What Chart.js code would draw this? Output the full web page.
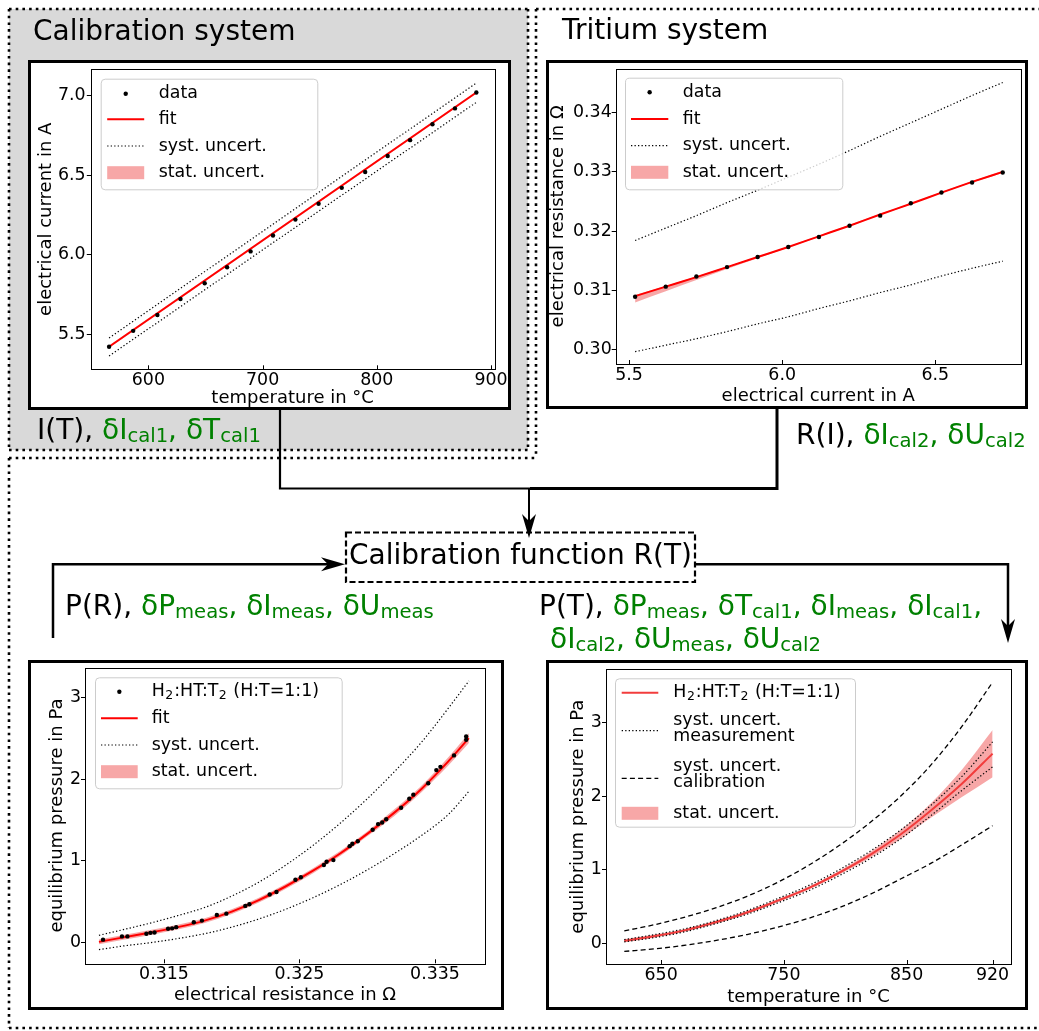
<!DOCTYPE html>
<html>
<head>
<meta charset="utf-8">
<script src="https://cdn.jsdelivr.net/npm/chart.js@4.4.0/dist/chart.umd.min.js"></script>
<style>
  html, body { margin: 0; padding: 0; background: #fff; }
  body { width: 1039px; height: 1031px; position: relative; overflow: hidden; font-family: 'DejaVu Sans', sans-serif; }
  .gray { position: absolute; left: 9px; top: 9px; width: 519px; height: 441px; background: #d9d9d9; }
  .box { position: absolute; box-sizing: border-box; border: 3px solid #000; background: #fff; }
  canvas { position: absolute; }
  svg { position: absolute; left: 0; top: 0; }
  .txt { position: absolute; font-size: 28px; line-height: 28px; white-space: nowrap; color: #000; }
  .g { color: #008000; }
  sub { font-size: 0.7em; vertical-align: -0.17em; line-height: 0; }
</style>
</head>
<body>
<div class="gray"></div>
<div class="box" style="left:28px; top:60px; width:483px; height:350px;"></div>
<div class="box" style="left:546px; top:60px; width:482px; height:349px;"></div>
<div class="box" style="left:28px; top:660px; width:476px; height:350px;"></div>
<div class="box" style="left:546px; top:660px; width:482px; height:350px;"></div>

<canvas id="c1" width="477" height="344" style="left:31px; top:63px;"></canvas>
<canvas id="c2" width="476" height="343" style="left:549px; top:63px;"></canvas>
<canvas id="c3" width="470" height="344" style="left:31px; top:663px;"></canvas>
<canvas id="c4" width="476" height="344" style="left:549px; top:663px;"></canvas>

<svg width="1039" height="1031">
  <g stroke="#000" stroke-width="2.6" stroke-dasharray="2.6 4.1" fill="none">
    <line x1="9" y1="9" x2="528" y2="9"/>
    <line x1="9" y1="9" x2="9" y2="450"/>
    <line x1="528" y1="9" x2="528" y2="450"/>
    <line x1="9" y1="450" x2="528" y2="450"/>
    <line x1="536" y1="9" x2="1039" y2="9"/>
    <line x1="536" y1="9" x2="536" y2="458"/>
    <line x1="9" y1="458" x2="536" y2="458"/>
    <line x1="9" y1="458" x2="9" y2="1028"/>
    <line x1="9" y1="1028" x2="1039" y2="1028"/>
  </g>
  <g stroke="#000" fill="none">
    <path d="M280 410 V488.5 H530" stroke-width="2.2"/>
    <path d="M530 488.5 H777 V409" stroke-width="3"/>
    <path d="M529 488.5 V524" stroke-width="2"/>
    <path d="M53 638 V564.3 H330" stroke-width="2.5"/>
    <path d="M696 564.3 H1008 V628" stroke-width="2.5"/>
    <rect x="346" y="532.5" width="349" height="49.5" stroke-width="2.2" stroke-dasharray="6 3" fill="#fff"/>
  </g>
  <g fill="#000">
    <polygon points="529,538 522,514 529,521 536,514"/>
    <polygon points="345,564.3 321,557.3 328,564.3 321,571.3"/>
    <polygon points="1008,643 1001,619 1008,626 1015,619"/>
  </g>
</svg>

<div class="txt" style="left:33px; top:17px;">Calibration system</div>
<div class="txt" style="left:562px; top:16px;">Tritium system</div>
<div class="txt" style="left:37px; top:416px;">I(T), <span class="g">δI<sub>cal1</sub>, δT<sub>cal1</sub></span></div>
<div class="txt" style="left:796px; top:421px;">R(I), <span class="g">δI<sub>cal2</sub>, δU<sub>cal2</sub></span></div>
<div class="txt" style="left:349px; top:541px;">Calibration function R(T)</div>
<div class="txt" style="left:65px; top:592px;">P(R), <span class="g">δP<sub>meas</sub>, δI<sub>meas</sub>, δU<sub>meas</sub></span></div>
<div class="txt" style="left:539px; top:592px;">P(T), <span class="g">δP<sub>meas</sub>, δT<sub>cal1</sub>, δI<sub>meas</sub>, δI<sub>cal1</sub>,</span></div>
<div class="txt g" style="left:550px; top:625px;">δI<sub>cal2</sub>, δU<sub>meas</sub>, δU<sub>cal2</sub></div>

<script>
// ---- calibration system: I(T)
const calTemp = [565.6, 586.7, 607.9, 628.1, 649.3, 668.9, 689.5, 709.1, 728.7, 749.0, 769.3, 789.8, 809.5, 829.1, 848.7, 868.4, 887.1];
const calCurrent = [5.42, 5.52, 5.62, 5.72, 5.82, 5.92, 6.02, 6.12, 6.22, 6.32, 6.42, 6.52, 6.62, 6.72, 6.82, 6.92, 7.02];
const calFitTemp = [565.6, 887.1];
const calFitCurrent = [5.42, 7.02];
const calSystUpper = [5.475, 7.080];
const calSystLower = [5.362, 6.958];
const calStatUpper = [5.427, 7.026];
const calStatLower = [5.413, 7.014];
const calTempTicks = [600, 700, 800, 900];
const calCurrentTicks = [5.5, 6.0, 6.5, 7.0];

// ---- tritium system: R(I)
const triCurrent = [5.52, 5.62, 5.72, 5.82, 5.92, 6.02, 6.12, 6.22, 6.32, 6.42, 6.52, 6.62, 6.72];
const triResistance = [0.3089, 0.3106, 0.3123, 0.3139, 0.3156, 0.3173, 0.3190, 0.3209, 0.3226, 0.3247, 0.3265, 0.3282, 0.3299];
const triFit = [0.3090, 0.3106, 0.3122, 0.3139, 0.3156, 0.3173, 0.3191, 0.3209, 0.3228, 0.3246, 0.3265, 0.3283, 0.3300];
const triSystUpper = [0.3184, 0.3205, 0.3226, 0.3248, 0.3269, 0.3291, 0.3313, 0.3336, 0.3360, 0.3383, 0.3406, 0.3429, 0.3451];
const triSystLower = [0.2996, 0.3007, 0.3018, 0.3030, 0.3043, 0.3055, 0.3069, 0.3082, 0.3096, 0.3109, 0.3124, 0.3137, 0.3149];
const triStatUpper = [0.3092, 0.3107, 0.3123, 0.3140, 0.3157, 0.3174, 0.3192, 0.3210, 0.3229, 0.3247, 0.3266, 0.3284, 0.3302];
const triStatLower = [0.3079, 0.3098, 0.3117, 0.3136, 0.3154, 0.3172, 0.3190, 0.3208, 0.3227, 0.3245, 0.3264, 0.3282, 0.3298];
const triCurrentTicks = [5.5, 6.0, 6.5];
const triResistanceTicks = [0.30, 0.31, 0.32, 0.33, 0.34];

// ---- P(R)
const prResistance = [0.3105, 0.3119, 0.3123, 0.3137, 0.3140, 0.3143, 0.3153, 0.3156, 0.3159, 0.3172, 0.3178, 0.3189, 0.3196,
  0.3210, 0.3213, 0.3228, 0.3233, 0.3247, 0.3251, 0.3268, 0.3270, 0.3275, 0.3287, 0.3289, 0.3293, 0.3304, 0.3308, 0.3311,
  0.3314, 0.3325, 0.3331, 0.3334, 0.3345, 0.3351, 0.3354, 0.3364, 0.3373, 0.3373];
const prPressure = [0.037, 0.077, 0.077, 0.11, 0.12, 0.125, 0.17, 0.175, 0.19, 0.25, 0.27, 0.34, 0.355,
  0.45, 0.47, 0.59, 0.62, 0.77, 0.80, 0.95, 0.99, 1.01, 1.18, 1.21, 1.24, 1.38, 1.45, 1.47,
  1.51, 1.65, 1.76, 1.81, 1.95, 2.11, 2.15, 2.29, 2.52, 2.48];
const prFitResistance = [0.3102, 0.312, 0.314, 0.316, 0.318, 0.320, 0.322, 0.324, 0.326, 0.328, 0.330, 0.332, 0.334, 0.336, 0.3375];
const prFit = [0.01, 0.065, 0.125, 0.19, 0.27, 0.38, 0.52, 0.69, 0.88, 1.09, 1.33, 1.59, 1.88, 2.22, 2.50];
const prSystUpper = [0.09, 0.16, 0.24, 0.33, 0.43, 0.57, 0.74, 0.95, 1.19, 1.46, 1.76, 2.09, 2.45, 2.87, 3.20];
const prSystLower = [-0.085, -0.04, 0.0, 0.05, 0.11, 0.19, 0.29, 0.41, 0.55, 0.71, 0.89, 1.09, 1.31, 1.57, 1.85];
const prStatUpper = [0.04, 0.095, 0.155, 0.22, 0.30, 0.41, 0.55, 0.72, 0.91, 1.12, 1.36, 1.63, 1.92, 2.27, 2.56];
const prStatLower = [-0.02, 0.035, 0.095, 0.16, 0.24, 0.35, 0.49, 0.66, 0.85, 1.06, 1.30, 1.55, 1.84, 2.17, 2.44];
const prResistanceTicks = [0.315, 0.325, 0.335];
const pressureTicks = [0, 1, 2, 3];

// ---- P(T)
const ptTemp = [620, 645, 670, 695, 720, 745, 770, 795, 820, 845, 870, 895, 920];
const ptFit = [0.035, 0.10, 0.18, 0.29, 0.42, 0.58, 0.75, 0.96, 1.20, 1.48, 1.81, 2.17, 2.58];
const ptMeasUpper = [0.05, 0.12, 0.20, 0.31, 0.445, 0.61, 0.785, 1.00, 1.25, 1.54, 1.88, 2.27, 2.74];
const ptMeasLower = [0.02, 0.08, 0.16, 0.27, 0.395, 0.55, 0.715, 0.92, 1.15, 1.42, 1.74, 2.08, 2.40];
const ptCalUpper = [0.17, 0.255, 0.36, 0.485, 0.64, 0.83, 1.06, 1.33, 1.64, 2.00, 2.43, 2.95, 3.55];
const ptCalLower = [-0.11, -0.075, -0.025, 0.04, 0.12, 0.22, 0.34, 0.485, 0.665, 0.875, 1.09, 1.34, 1.60];
const ptStatUpper = [0.055, 0.12, 0.20, 0.31, 0.44, 0.60, 0.77, 0.985, 1.24, 1.54, 1.91, 2.36, 2.90];
const ptStatLower = [0.015, 0.08, 0.16, 0.27, 0.40, 0.56, 0.73, 0.935, 1.16, 1.42, 1.71, 1.99, 2.26];
const ptTempTicks = [650, 750, 850, 920];

const legendCal = ['data', 'fit', 'syst. uncert.', 'stat. uncert.'];
const legendPR = ['H_2:HT:T_2 (H:T=1:1)', 'fit', 'syst. uncert.', 'stat. uncert.'];
const legendPT = ['H_2:HT:T_2 (H:T=1:1)', 'syst. uncert.\nmeasurement', 'syst. uncert.\ncalibration', 'stat. uncert.'];

Chart.defaults.font.family = "'DejaVu Sans', sans-serif";
Chart.defaults.color = '#000';

const BAND = 'rgba(240,80,80,0.5)';
const FONT = 17.4;
const TITLE_FONT = 18;

// legend boxes drawn inside the axes, matplotlib style
const legends = {
  c1: { dx: 9.9, dy: 9.4, w: 216.6, h: 110.6, hx0: 6.5, hx1: 43.5, tx: 58, labels: legendCal, red: '#ff0000',
        rows: [['marker', 15, [15]], ['line', 40.6, [40.6]], ['dotted', 67.3, [67.3]], ['patch', 94, [94]]] },
  c2: { dx: 9.3, dy: 9, w: 217.3, h: 111.6, hx0: 6, hx1: 43.3, tx: 57.7, labels: legendCal, red: '#ff0000',
        rows: [['marker', 14.6, [14.6]], ['line', 41.3, [41.3]], ['dotted', 68, [68]], ['patch', 94.6, [94.6]]] },
  c3: { dx: 10, dy: 9.6, w: 246.7, h: 111, hx0: 6, hx1: 42.7, tx: 56.7, labels: legendPR, red: '#ff0000',
        rows: [['marker', 14.4, [14.4]], ['line', 41, [41]], ['dotted', 67.7, [67.7]], ['patch', 94.4, [94.4]]] },
  c4: { dx: 9, dy: 9, w: 240, h: 148.4, hx0: 6.7, hx1: 43.3, tx: 58.3, labels: legendPT, red: 'rgb(242,60,60)',
        rows: [['line', 14.4, [14.4]], ['dotted', 52.4, [41.7, 58.4]], ['dashed', 100, [88.4, 104.4]], ['patch', 135, [135]]] }
};

function drawRich(ctx, s, x, y) {
  let cx = x;
  s.split(/(_\w)/).forEach(p => {
    if (!p) return;
    if (p[0] === '_') {
      ctx.font = (FONT * 0.72) + "px 'DejaVu Sans'";
      ctx.fillText(p.slice(1), cx + 0.5, y + 4);
      cx += ctx.measureText(p.slice(1)).width + 1.5;
    } else {
      ctx.font = FONT + "px 'DejaVu Sans'";
      ctx.fillText(p, cx, y);
      cx += ctx.measureText(p).width;
    }
  });
}

const mplLegend = {
  id: 'mplLegend',
  afterDraw(chart) {
    const L = legends[chart.canvas.id];
    const ctx = chart.ctx, a = chart.chartArea;
    const x0 = a.left + L.dx, y0 = a.top + L.dy;
    ctx.save();
    ctx.beginPath();
    ctx.roundRect(x0 + 0.5, y0 + 0.5, L.w, L.h, 4);
    ctx.fillStyle = 'rgba(255,255,255,0.8)';
    ctx.fill();
    ctx.strokeStyle = '#cccccc';
    ctx.lineWidth = 1;
    ctx.stroke();
    L.rows.forEach((r, i) => {
      const kind = r[0], hy = y0 + r[1];
      const hx0 = x0 + L.hx0, hx1 = x0 + L.hx1;
      ctx.setLineDash([]);
      if (kind === 'marker') {
        ctx.fillStyle = '#000';
        ctx.beginPath();
        ctx.arc((hx0 + hx1) / 2, hy, 2.2, 0, Math.PI * 2);
        ctx.fill();
      } else if (kind === 'patch') {
        ctx.fillStyle = BAND;
        ctx.fillRect(hx0, hy - 6.5, hx1 - hx0, 13);
      } else {
        ctx.beginPath();
        ctx.moveTo(hx0, hy);
        ctx.lineTo(hx1, hy);
        if (kind === 'line') { ctx.strokeStyle = L.red; ctx.lineWidth = 2; }
        if (kind === 'dotted') { ctx.strokeStyle = '#000'; ctx.lineWidth = 1.2; ctx.setLineDash([1.3, 2.2]); }
        if (kind === 'dashed') { ctx.strokeStyle = '#000'; ctx.lineWidth = 1.3; ctx.setLineDash([5, 3.2]); }
        ctx.stroke();
      }
      ctx.fillStyle = '#000';
      ctx.textBaseline = 'middle';
      ctx.textAlign = 'left';
      L.labels[i].split('\n').forEach((line, k) => drawRich(ctx, line, x0 + L.tx, y0 + r[2][k]));
    });
    ctx.restore();
  }
};

// axes frame and inward x ticks
const framePlugin = {
  id: 'frame',
  afterDatasetsDraw(chart) {
    const ctx = chart.ctx, a = chart.chartArea, xs = chart.scales.x;
    ctx.save();
    ctx.strokeStyle = '#000';
    ctx.lineWidth = 1;
    ctx.strokeRect(Math.round(a.left) + 0.5, Math.round(a.top) + 0.5, Math.round(a.right - a.left), Math.round(a.bottom - a.top));
    xs.ticks.forEach(t => {
      const px = Math.round(xs.getPixelForValue(t.value)) + 0.5;
      ctx.beginPath();
      ctx.moveTo(px, a.bottom);
      ctx.lineTo(px, a.bottom - 4);
      ctx.stroke();
    });
    ctx.restore();
  }
};

function pts(xs, ys) {
  return xs.map((x, i) => ({ x: x, y: ys[i] }));
}

function dots(xs, ys) {
  return { data: pts(xs, ys), showLine: false, pointRadius: 2.2, pointBackgroundColor: '#000', pointBorderWidth: 0 };
}

function curve(xs, ys, color, width, dash) {
  return { data: pts(xs, ys), showLine: true, pointRadius: 0, borderColor: color, borderWidth: width,
           borderDash: dash || [], fill: false, cubicInterpolationMode: 'monotone' };
}

function band(xs, up, lo) {
  return [
    { data: pts(xs, up), pointRadius: 0, borderWidth: 0, borderColor: 'rgba(0,0,0,0)', fill: '+1', backgroundColor: BAND, cubicInterpolationMode: 'monotone' },
    { data: pts(xs, lo), pointRadius: 0, borderWidth: 0, borderColor: 'rgba(0,0,0,0)', fill: false, cubicInterpolationMode: 'monotone' }
  ];
}

function axis(a, isY, g) {
  return {
    type: 'linear',
    min: a.min,
    max: a.max,
    afterBuildTicks: s => { s.ticks = a.ticks.map(v => ({ value: v })); },
    afterFit: s => {
      if (isY) { s.width = g.left; s.paddingTop = 0; s.paddingBottom = 0; }
      else { s.height = g.xh; s.paddingLeft = 0; s.paddingRight = 0; }
    },
    border: { display: false },
    grid: { drawOnChartArea: false, drawTicks: isY, tickLength: 4, color: '#000', tickColor: '#000' },
    ticks: { font: { size: FONT, lineHeight: 1 }, color: '#000', padding: a.pad, autoSkip: false, maxRotation: 0,
             callback: v => a.fmt(v) },
    title: { display: true, text: a.title, color: '#000', font: { size: TITLE_FONT, lineHeight: 1 },
             padding: isY ? { top: a.tpad, bottom: 0 } : { top: 0, bottom: a.tpad } }
  };
}

function makeChart(id, g, datasets, xa, ya) {
  return new Chart(document.getElementById(id), {
    type: 'line',
    data: { datasets: datasets },
    options: {
      responsive: false,
      animation: false,
      events: [],
      layout: { padding: { left: 0, top: g.top, right: g.right, bottom: 0 } },
      scales: { x: axis(xa, false, g), y: axis(ya, true, g) },
      plugins: { legend: { display: false }, tooltip: { enabled: false } }
    },
    plugins: [framePlugin, mplLegend]
  });
}

const dotted = [1.3, 2.2];
const dashed = [5, 3.2];

makeChart('c1', { left: 59.8, top: 6.3, right: 13.5, xh: 37.7 },
  [dots(calTemp, calCurrent),
   curve(calFitTemp, calFitCurrent, '#ff0000', 2),
   curve(calFitTemp, calSystUpper, '#000', 1.2, dotted),
   curve(calFitTemp, calSystLower, '#000', 1.2, dotted)].concat(band(calFitTemp, calStatUpper, calStatLower)),
  { min: 549.6, max: 903, ticks: calTempTicks, fmt: v => String(v), pad: 2.0, title: 'temperature in °C', tpad: 0 },
  { min: 5.278, max: 7.166, ticks: calCurrentTicks, fmt: v => v.toFixed(1), pad: 1.2, title: 'electrical current in A', tpad: 6.0 });

makeChart('c2', { left: 66.7, top: 5.7, right: 4.3, xh: 42 },
  [dots(triCurrent, triResistance),
   curve(triCurrent, triFit, '#ff0000', 2),
   curve(triCurrent, triSystUpper, '#000', 1.2, dotted),
   curve(triCurrent, triSystLower, '#000', 1.2, dotted)].concat(band(triCurrent, triStatUpper, triStatLower)),
  { min: 5.4566, max: 6.7787, ticks: triCurrentTicks, fmt: v => v.toFixed(1), pad: 2.3, title: 'electrical current in A', tpad: 0.3 },
  { min: 0.29752, max: 0.34744, ticks: triResistanceTicks, fmt: v => v.toFixed(2), pad: 0, title: 'electrical resistance in Ω', tpad: 0.3 });

makeChart('c3', { left: 54, top: 4.7, right: 16, xh: 43.7 },
  [dots(prResistance, prPressure),
   curve(prFitResistance, prFit, '#ff0000', 2),
   curve(prFitResistance, prSystUpper, '#000', 1.2, dotted),
   curve(prFitResistance, prSystLower, '#000', 1.2, dotted)].concat(band(prFitResistance, prStatUpper, prStatLower)),
  { min: 0.30917, max: 0.33869, ticks: prResistanceTicks, fmt: v => v.toFixed(3), pad: 2.3, title: 'electrical resistance in Ω', tpad: 3.0 },
  { min: -0.252, max: 3.362, ticks: pressureTicks, fmt: v => String(v), pad: 0, title: 'equilibrium pressure in Pa', tpad: 17.3 });

makeChart('c4', { left: 57, top: 6.3, right: 14, xh: 43 },
  [curve(ptTemp, ptMeasUpper, '#000', 1.2, dotted),
   curve(ptTemp, ptMeasLower, '#000', 1.2, dotted),
   curve(ptTemp, ptFit, 'rgb(242,60,60)', 2),
   curve(ptTemp, ptCalUpper, '#000', 1.3, dashed),
   curve(ptTemp, ptCalLower, '#000', 1.3, dashed)].concat(band(ptTemp, ptStatUpper, ptStatLower)),
  { min: 605.1, max: 935, ticks: ptTempTicks, fmt: v => String(v), pad: 2.3, title: 'temperature in °C', tpad: 0.7 },
  { min: -0.281, max: 3.727, ticks: pressureTicks, fmt: v => String(v), pad: 0.3, title: 'equilibrium pressure in Pa', tpad: 20.3 });
</script>
</body>
</html>
